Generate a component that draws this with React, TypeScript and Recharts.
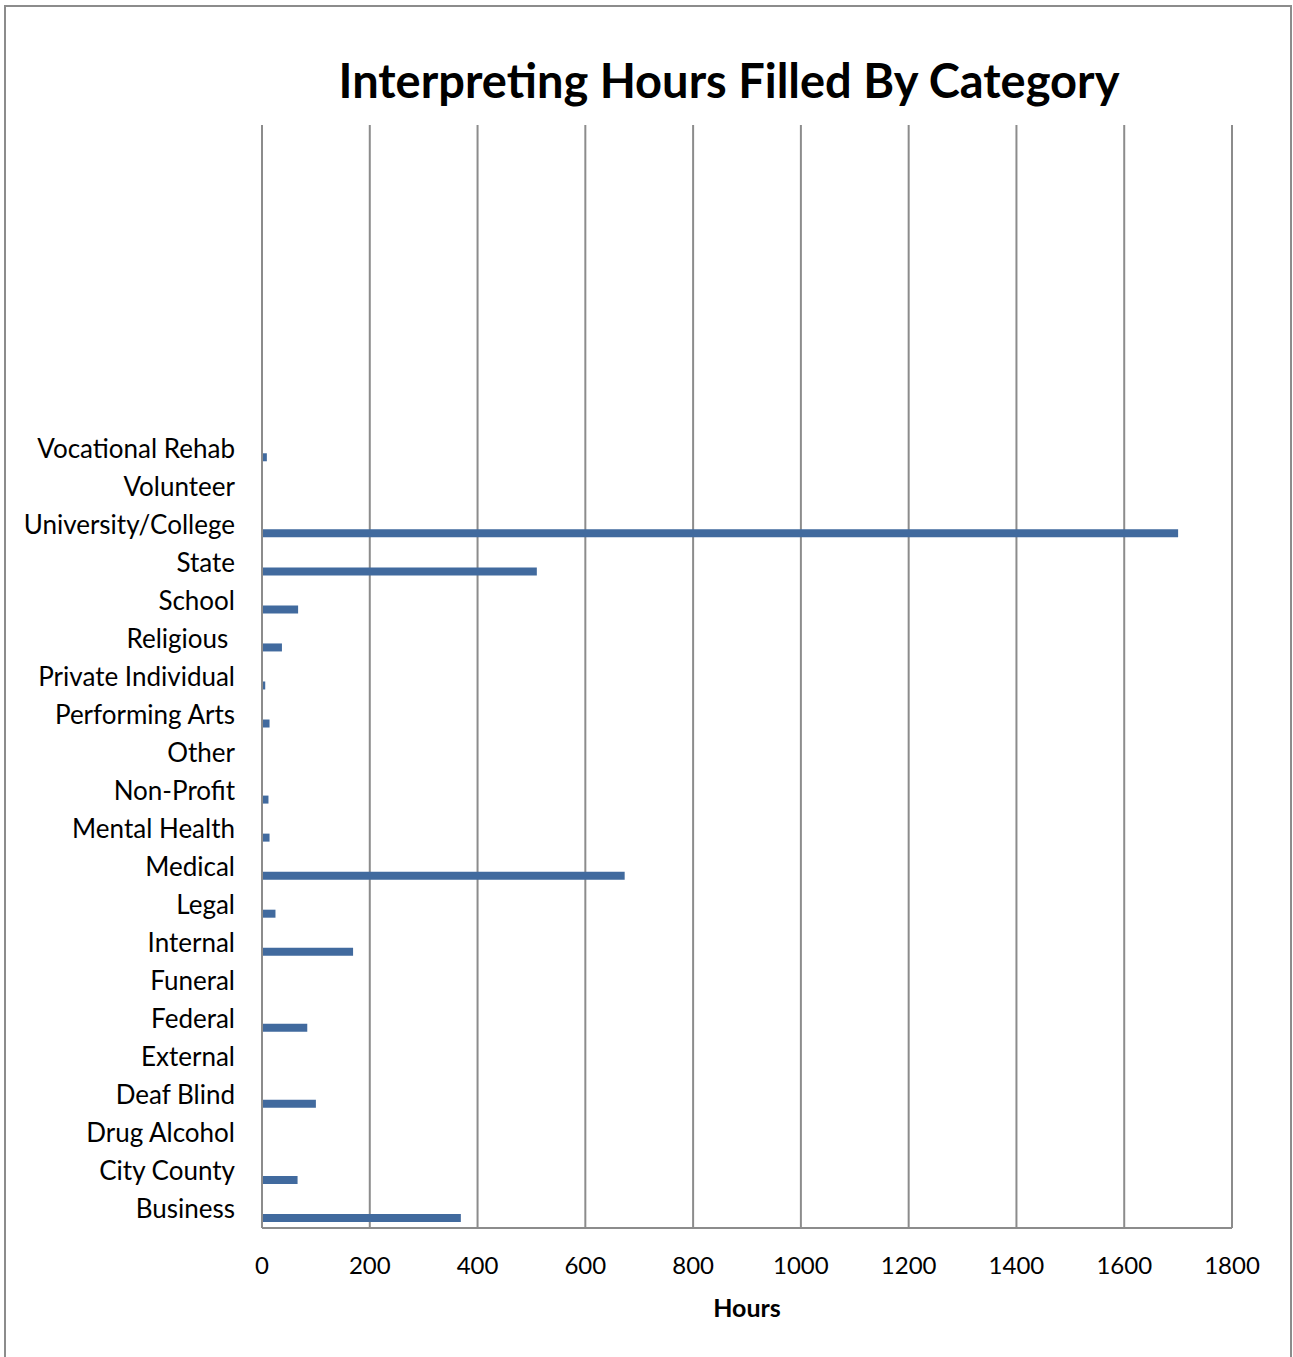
import { BarChart, Bar, XAxis, YAxis, CartesianGrid } from 'recharts'

// categories bottom -> top, the way the sheet lists them; blanks are empty rows above
const categories = [
  'Business', 'City County', 'Drug Alcohol', 'Deaf Blind', 'External', 'Federal',
  'Funeral', 'Internal', 'Legal', 'Medical', 'Mental Health', 'Non-Profit', 'Other',
  'Performing Arts', 'Private Individual', 'Religious\u00A0', 'School', 'State',
  'University/College', 'Volunteer', 'Vocational Rehab',
  '', '', '', '', '', '', '', '',
]

const hours = [
  369, 66, 0, 100, 0, 84, 0, 169, 25, 673, 14, 12, 0,
  14, 6, 37, 67, 510, 1700, 0, 9,
]

const xTicks = [0, 200, 400, 600, 800, 1000, 1200, 1400, 1600, 1800]

const FONT = 'Lato, "Open Sans", sans-serif'
const GRID = '#8c8c8c'

export default function App() {
  const data = categories.map((name, i) => ({
    name,
    hours: i < hours.length ? hours[i] : null,
  }))

  return (
    <div style={{ position: 'absolute', left: 0, top: 0, width: 1293, height: 1357, background: '#fff' }}>
      {/* outer chart frame */}
      <div
        style={{
          position: 'absolute', left: 4, top: 5, width: 1288, height: 1370,
          border: `2px solid ${GRID}`, boxSizing: 'border-box',
        }}
      />
      <div
        style={{
          position: 'absolute', left: 0, top: 52, width: 1458, textAlign: 'center',
          fontFamily: FONT, fontWeight: 700, fontSize: 47, color: '#000', lineHeight: '56px',
        }}
      >
        Interpreting Hours Filled By Category
      </div>
      <div style={{ position: 'absolute', left: 0, top: 0 }}>
        <BarChart
          width={1293}
          height={1357}
          data={data}
          layout="vertical"
          margin={{ top: 125, right: 61, left: 0, bottom: 0 }}
          barCategoryGap={6}
          barGap={1}
        >
          <CartesianGrid horizontal={false} stroke={GRID} strokeWidth={2} />
          <XAxis
            type="number"
            domain={[0, 1800]}
            ticks={xTicks}
            interval={0}
            height={129}
            axisLine={{ stroke: GRID, strokeWidth: 2 }}
            tickLine={false}
            tickSize={0}
            tickMargin={29}
            tick={{ fill: '#000', fontSize: 24, fontFamily: FONT }}
            label={{
              value: 'Hours', position: 'insideBottom', offset: 40,
              style: { fill: '#000', fontSize: 25, fontWeight: 700, fontFamily: FONT },
            }}
          />
          <YAxis
            type="category"
            dataKey="name"
            reversed
            width={262}
            interval={0}
            axisLine={{ stroke: GRID, strokeWidth: 2 }}
            tickLine={false}
            tickSize={0}
            tickMargin={27}
            tick={{ fill: '#000', fontSize: 26, fontFamily: FONT }}
          />
          <Bar dataKey="spacerA" fill="#416a9e" isAnimationActive={false} />
          <Bar dataKey="spacerB" fill="#416a9e" isAnimationActive={false} />
          <Bar dataKey="hours" fill="#416a9e" isAnimationActive={false} />
        </BarChart>
      </div>
    </div>
  )
}
